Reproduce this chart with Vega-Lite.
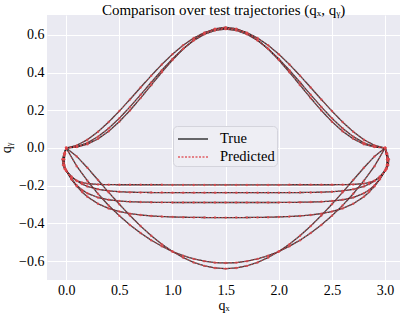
{
  "$schema": "https://vega.github.io/schema/vega-lite/v6.json",
  "width": 353,
  "height": 265,
  "autosize": {"type": "none"},
  "padding": {"left": 47, "top": 15, "right": 7, "bottom": 34},
  "background": "white",
  "title": {"text": "Comparison over test trajectories (qₓ, qᵧ)", "font": "Liberation Serif", "fontSize": 15, "fontWeight": "normal", "color": "#000000", "offset": -3, "anchor": "middle"},
  "data": {"values": [
    {"t": "A1", "x": [0,0.1,0.2,0.3,0.4,0.5,0.6,0.7,0.8,0.9,1,1.1,1.2,1.3,1.4,1.5,1.6,1.7,1.8,1.9,2,2.1,2.2,2.3,2.4,2.5,2.6,2.7,2.8,2.9,3],
     "y": [0,0.0069,0.0272,0.0602,0.1042,0.1575,0.2177,0.2821,0.3479,0.4123,0.4725,0.5258,0.5698,0.6028,0.6231,0.63,0.6231,0.6028,0.5698,0.5258,0.4725,0.4123,0.3479,0.2821,0.2177,0.1575,0.1042,0.0602,0.0272,0.0069,0]},
    {"t": "A2", "x": [0,0.1,0.2,0.3,0.4,0.5,0.6,0.7,0.8,0.9,1,1.1,1.2,1.3,1.4,1.5,1.6,1.7,1.8,1.9,2,2.1,2.2,2.3,2.4,2.5,2.6,2.7,2.8,2.9,3],
     "y": [0,0.0137,0.044,0.0862,0.1376,0.1955,0.2573,0.3207,0.3834,0.4429,0.4973,0.5445,0.5831,0.6116,0.6291,0.635,0.6291,0.6116,0.5831,0.5445,0.4973,0.4429,0.3834,0.3207,0.2573,0.1955,0.1376,0.0862,0.044,0.0137,0]},
    {"t": "A3", "x": [0,0.1,0.2,0.3,0.4,0.5,0.6,0.7,0.8,0.9,1,1.1,1.2,1.3,1.4,1.5,1.6,1.7,1.8,1.9,2,2.1,2.2,2.3,2.4,2.5,2.6,2.7,2.8,2.9,3],
     "y": [0,0.0045,0.0202,0.0483,0.0885,0.1393,0.1988,0.2644,0.3331,0.4015,0.4664,0.5245,0.5731,0.6097,0.6323,0.64,0.6323,0.6097,0.5731,0.5245,0.4664,0.4015,0.3331,0.2644,0.1988,0.1393,0.0885,0.0483,0.0202,0.0045,0]},
    {"t": "D1", "x": [0,0.1,0.2,0.3,0.4,0.5,0.6,0.7,0.8,0.9,1,1.1,1.2,1.3,1.4,1.5,1.6,1.7,1.8,1.9,2,2.1,2.2,2.3,2.4,2.5,2.6,2.7,2.8,2.9,3],
     "y": [0,-0.0446,-0.105,-0.17,-0.235,-0.298,-0.358,-0.414,-0.465,-0.51,-0.549,-0.581,-0.607,-0.625,-0.636,-0.64,-0.636,-0.625,-0.607,-0.581,-0.549,-0.51,-0.465,-0.414,-0.358,-0.298,-0.235,-0.17,-0.105,-0.0446,0]},
    {"t": "D2", "x": [0,0.1,0.2,0.3,0.4,0.5,0.6,0.7,0.8,0.9,1,1.1,1.2,1.3,1.4,1.5,1.6,1.7,1.8,1.9,2,2.1,2.2,2.3,2.4,2.5,2.6,2.7,2.8,2.9,3],
     "y": [0,-0.0965,-0.174,-0.243,-0.305,-0.359,-0.408,-0.451,-0.489,-0.521,-0.549,-0.571,-0.588,-0.6,-0.608,-0.61,-0.608,-0.6,-0.588,-0.571,-0.549,-0.521,-0.489,-0.451,-0.408,-0.359,-0.305,-0.243,-0.174,-0.0965,0]},
    {"t": "F1", "x": [0,-0.01,-0.018,-0.016,-0.007,0,0.05,0.1,0.15,0.2,0.3,0.4,0.5,0.6,0.7,0.8,0.9,1,1.1,1.2,1.3,1.4,1.5,1.6,1.7,1.8,1.9,2,2.1,2.2,2.3,2.4,2.5,2.6,2.7,2.8,2.85,2.9,2.95,3,3.007,3.016,3.018,3.01,3],
     "y": [0,-0.03,-0.06,-0.09,-0.11,-0.12,-0.1549,-0.1735,-0.1835,-0.1889,-0.1932,-0.1945,-0.195,-0.195,-0.195,-0.195,-0.195,-0.196,-0.196,-0.196,-0.196,-0.196,-0.196,-0.196,-0.196,-0.196,-0.196,-0.196,-0.195,-0.195,-0.195,-0.195,-0.195,-0.1945,-0.1932,-0.1889,-0.1835,-0.1735,-0.1549,-0.12,-0.11,-0.09,-0.06,-0.03,0]},
    {"t": "F2", "x": [0,-0.015,-0.025,-0.022,-0.01,0,0.05,0.1,0.15,0.2,0.3,0.4,0.5,0.6,0.7,0.8,0.9,1,1.1,1.2,1.3,1.4,1.5,1.6,1.7,1.8,1.9,2,2.1,2.2,2.3,2.4,2.5,2.6,2.7,2.8,2.85,2.9,2.95,3,3.01,3.022,3.025,3.015,3],
     "y": [0,-0.03,-0.06,-0.09,-0.11,-0.12,-0.1516,-0.1746,-0.1915,-0.2038,-0.2193,-0.2276,-0.232,-0.2343,-0.2356,-0.2362,-0.2366,-0.237,-0.237,-0.237,-0.237,-0.237,-0.237,-0.237,-0.237,-0.237,-0.237,-0.237,-0.2366,-0.2362,-0.2356,-0.2343,-0.232,-0.2276,-0.2193,-0.2038,-0.1915,-0.1746,-0.1516,-0.12,-0.11,-0.09,-0.06,-0.03,0]},
    {"t": "F3", "x": [0,-0.015,-0.025,-0.022,-0.01,0,0.05,0.1,0.15,0.2,0.3,0.4,0.5,0.6,0.7,0.8,0.9,1,1.1,1.2,1.3,1.4,1.5,1.6,1.7,1.8,1.9,2,2.1,2.2,2.3,2.4,2.5,2.6,2.7,2.8,2.85,2.9,2.95,3,3.01,3.022,3.025,3.015,3],
     "y": [0,-0.03,-0.06,-0.09,-0.11,-0.12,-0.1651,-0.1982,-0.2224,-0.2402,-0.2628,-0.2749,-0.2814,-0.2849,-0.2868,-0.2878,-0.2884,-0.289,-0.289,-0.289,-0.289,-0.289,-0.289,-0.289,-0.289,-0.289,-0.289,-0.289,-0.2884,-0.2878,-0.2868,-0.2849,-0.2814,-0.2749,-0.2628,-0.2402,-0.2224,-0.1982,-0.1651,-0.12,-0.11,-0.09,-0.06,-0.03,0]},
    {"t": "F4", "x": [0,-0.02,-0.035,-0.03,-0.015,0,0.05,0.1,0.15,0.2,0.3,0.4,0.5,0.6,0.7,0.8,0.9,1,1.1,1.2,1.3,1.4,1.5,1.6,1.7,1.8,1.9,2,2.1,2.2,2.3,2.4,2.5,2.6,2.7,2.8,2.85,2.9,2.95,3,3.015,3.03,3.035,3.02,3],
     "y": [0,-0.03,-0.06,-0.09,-0.11,-0.12,-0.1658,-0.2033,-0.2337,-0.2588,-0.2958,-0.3205,-0.337,-0.348,-0.3553,-0.3602,-0.3635,-0.3656,-0.3671,-0.3681,-0.3687,-0.3691,-0.3694,-0.3691,-0.3687,-0.3681,-0.3671,-0.3656,-0.3635,-0.3602,-0.3553,-0.348,-0.337,-0.3205,-0.2958,-0.2588,-0.2337,-0.2033,-0.1658,-0.12,-0.11,-0.09,-0.06,-0.03,0]}
  ]},
  "transform": [{"flatten": ["x", "y"]}],
  "encoding": {
    "x": {"field": "x", "type": "quantitative", "scale": {"domain": [-0.18, 3.14], "nice": false, "zero": false},
          "axis": {"values": [0, 0.5, 1, 1.5, 2, 2.5, 3], "format": ".1f", "title": "qₓ", "titlePadding": 1}},
    "y": {"field": "y", "type": "quantitative", "scale": {"domain": [-0.7, 0.705], "nice": false, "zero": false},
          "axis": {"values": [-0.6, -0.4, -0.2, 0, 0.2, 0.4, 0.6], "format": ".1f", "title": "qᵧ", "titlePadding": 5}},
    "detail": {"field": "t"},
    "order": {"value": null}
  },
  "layer": [
    {"mark": {"type": "line", "strokeWidth": 1.3, "opacity": 0.85},
     "encoding": {
       "color": {"datum": "True", "type": "nominal",
        "scale": {"domain": ["True", "Predicted"], "range": ["#1a1a1a", "#e0474c"]},
        "legend": {"orient": "none", "legendX": 126, "legendY": 111, "title": null, "symbolType": "M-1.5,0H1.5", "symbolSize": 400, "symbolStrokeWidth": 1.5, "symbolOffset": 7,
                   "labelFont": "Liberation Serif", "labelFontSize": 14.5, "labelColor": "#000000", "labelOffset": 16,
                   "padding": 2, "rowPadding": 0, "fillColor": "#eeeef4", "strokeColor": "#d4d4dc", "cornerRadius": 4}},
       "strokeDash": {"datum": "True", "type": "nominal",
        "scale": {"domain": ["True", "Predicted"], "range": [[1, 0], [2, 1.5]]},
        "legend": {"orient": "none", "legendX": 126, "legendY": 111, "title": null, "symbolType": "M-1.5,0H1.5", "symbolSize": 400, "symbolStrokeWidth": 1.5, "symbolOffset": 7,
                   "labelFont": "Liberation Serif", "labelFontSize": 14.5, "labelColor": "#000000", "labelOffset": 16,
                   "padding": 2, "rowPadding": 0, "fillColor": "#eeeef4", "strokeColor": "#d4d4dc", "cornerRadius": 4}}}},
    {"mark": {"type": "line", "strokeWidth": 1, "opacity": 0.85},
     "encoding": {"color": {"datum": "Predicted", "type": "nominal"}, "strokeDash": {"datum": "Predicted", "type": "nominal"}}},
    {"mark": {"type": "point", "shape": "circle", "filled": true, "size": 6, "color": "#e0474c", "opacity": 0.8}}
  ],
  "config": {
    "view": {"fill": "#eaeaf2", "stroke": null},
    "axis": {"grid": true, "gridColor": "#ffffff", "gridWidth": 1, "domain": false, "ticks": false,
             "labelFont": "Liberation Serif", "labelFontSize": 14, "labelColor": "#000000", "labelPadding": 3,
             "titleFont": "Liberation Serif", "titleFontSize": 14, "titleFontWeight": "normal", "titleColor": "#000000"}
  }
}
